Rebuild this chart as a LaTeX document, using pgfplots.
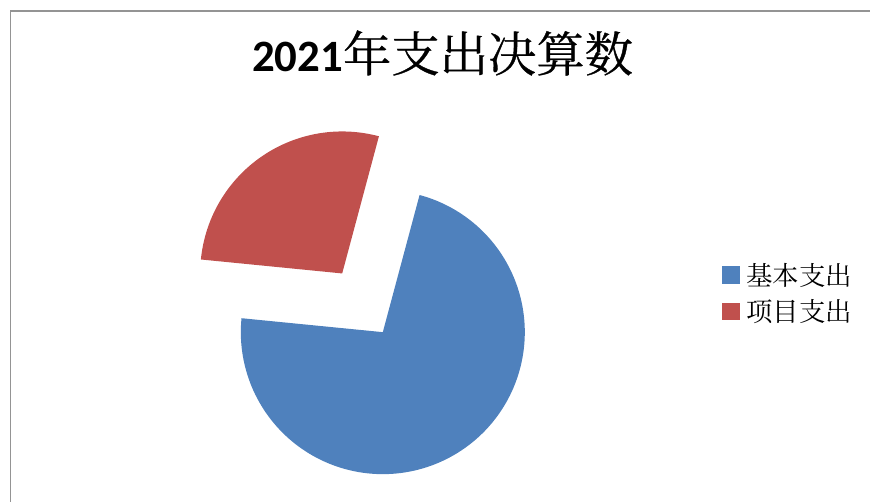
\documentclass[border=0pt]{standalone}
\usepackage{pgfplots}
\pgfplotsset{compat=1.18}
\usepackage{pgfplotstable}
\usepackage{fontspec}
\setmainfont{Carlito}
\newfontfamily\cjkserif{Noto Serif CJK SC}
\newfontfamily\cjktitle[FakeBold=0.7]{Noto Serif CJK SC}

\definecolor{pieblue}{HTML}{4F81BD}
\definecolor{piered}{HTML}{C0504D}

% share of each item (percent)
\pgfplotstableread{
item value
基本支出 72.4
项目支出 27.6
}\pietable

\begin{document}
\begin{tikzpicture}
  \pgfplotstablegetelem{0}{value}\of\pietable \let\valA\pgfplotsretval
  \pgfplotstablegetelem{1}{value}\of\pietable \let\valB\pgfplotsretval
  % pie geometry (1 unit = 1 px of the reference)
  \pgfmathsetmacro\cx{362.5}
  \pgfmathsetmacro\cy{199.2}
  \pgfmathsetmacro\rad{142}
  \pgfmathsetmacro\expl{35.7}
  \pgfmathsetmacro\startang{75}
  \pgfmathsetmacro\tot{\valA+\valB}
  \pgfmathsetmacro\endA{\startang-360*(\valA/\tot)}
  \pgfmathsetmacro\endB{\endA-360*(\valB/\tot)}
  \pgfmathsetmacro\midA{(\startang+\endA)/2}
  \pgfmathsetmacro\midB{(\endA+\endB)/2}
  \pgfmathsetmacro\vAx{\cx+\expl*cos(\midA)}
  \pgfmathsetmacro\vAy{\cy+\expl*sin(\midA)}
  \pgfmathsetmacro\vBx{\cx+\expl*cos(\midB)}
  \pgfmathsetmacro\vBy{\cy+\expl*sin(\midB)}

  \useasboundingbox (0,0) rectangle (870bp,502bp);
  \draw[black!42, line width=1.6bp] (10.5bp,0) |- (870bp,491.2bp);

  \begin{axis}[
      at={(0,0)}, anchor=south west,
      x=1bp, y=1bp,
      xmin=0, xmax=870, ymin=0, ymax=502,
      hide axis, clip=false,
      legend cell align=left,
      legend image code/.code={\fill[#1] (0bp,-8.7bp) rectangle (17.5bp,8.7bp);},
      legend style={
        at={(axis description cs:0.8299,0.4158)}, anchor=west,
        draw=none, fill=none, inner sep=0pt,
        row sep=13bp,
        font=\cjkserif\fontsize{26.5}{28}\selectfont,
        nodes={inner xsep=6.5bp, inner ysep=0bp},
      },
    ]
    \addplot[draw=none, fill=pieblue, domain=\endA:\startang, samples=150, variable=\t]
      ({\vAx+\rad*cos(\t)}, {\vAy+\rad*sin(\t)}) -- (axis cs:\vAx,\vAy) -- cycle;
    \addlegendentry{基本支出}
    \addplot[draw=none, fill=piered, domain=\endB:\endA, samples=80, variable=\t]
      ({\vBx+\rad*cos(\t)}, {\vBy+\rad*sin(\t)}) -- (axis cs:\vBx,\vBy) -- cycle;
    \addlegendentry{项目支出}

    \node[anchor=base west, inner sep=0pt] at (axis cs:252,430.3)
      {{\fontsize{45}{54}\selectfont\bfseries 2021}{\cjktitle\fontsize{48.5}{54}\selectfont 年支出决算数}};
  \end{axis}
\end{tikzpicture}
\end{document}
